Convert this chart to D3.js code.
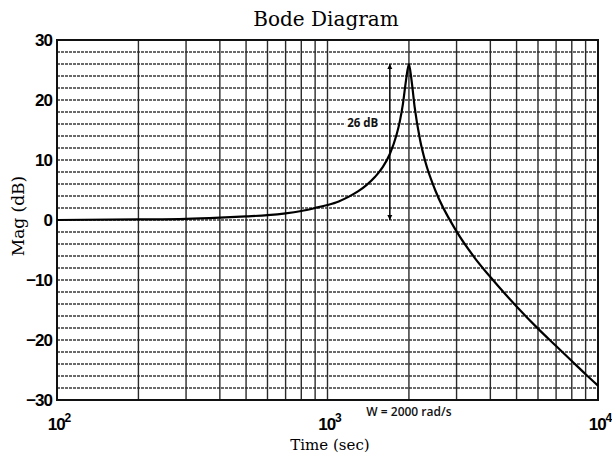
<!DOCTYPE html>
<html>
<head>
<meta charset="utf-8">
<script src="https://cdn.jsdelivr.net/npm/d3@7"></script>
<style>
  html, body { margin: 0; padding: 0; background: #fff; }
  svg { display: block; }
</style>
</head>
<body>
<svg id="chart" width="612" height="456"></svg>
<script>
// Frequency response of a lightly damped second-order system (wn = 2000 rad/s)
const freq = [100, 200, 300, 400, 500, 600, 700, 800, 900, 1000, 1100, 1200, 1300,
              1400, 1500, 1600, 1700, 1800, 1850, 1900, 1950, 2000, 2050, 2100, 2200,
              2300, 2500, 3000, 3500, 4000, 5000, 6000, 7000, 8000, 9000, 10000];
const magDb = [0.0, 0.1, 0.2, 0.4, 0.6, 0.8, 1.1, 1.5, 2.0, 2.5, 3.1, 3.9, 4.8,
               5.9, 7.2, 8.8, 11.0, 14.2, 16.4, 19.3, 23.2, 26.0, 22.9, 18.8, 13.3,
               9.7, 5.0, -1.9, -6.3, -9.5, -14.4, -18.1, -21.0, -23.5, -25.7, -27.6];

// Axis ticks
const yTicks = [-30, -20, -10, 0, 10, 20, 30];
const xTickExponents = [2, 3, 4];

// Annotations
const peakFreq = 2000;
const peakLabel = "26 dB";
const peakNote = "W = 2000 rad/s";
const arrowFreq = 1700;
const arrowFrom = 0;
const arrowTo = 26;

const svg = d3.select("#chart");
const margin = { left: 57, right: 14, top: 40, bottom: 56 };
const W = 612, H = 456;
const x = d3.scaleLog().domain([100, 10000]).range([margin.left, W - margin.right]);
const y = d3.scaleLinear().domain([-30, 30]).range([H - margin.bottom, margin.top]);

const defs = svg.append("defs");
defs.append("marker")
  .attr("id", "head")
  .attr("viewBox", "0 0 10 10")
  .attr("refX", 10).attr("refY", 5)
  .attr("markerWidth", 5).attr("markerHeight", 7)
  .attr("markerUnits", "userSpaceOnUse")
  .attr("orient", "auto-start-reverse")
  .append("path").attr("d", "M0,0 L10,5 L0,10 Z").attr("fill", "#000");

const grid = svg.append("g");

// Horizontal grid every 2 dB
const hLines = d3.range(-28, 30, 2);
grid.selectAll("line.h").data(hLines).join("line")
  .attr("class", "h")
  .attr("x1", x.range()[0]).attr("x2", x.range()[1])
  .attr("y1", d => y(d)).attr("y2", d => y(d))
  .attr("stroke", "#3a3a3a").attr("stroke-width", 1.3)
  .attr("stroke-dasharray", "3,1");

// Vertical grid on the log decades
const vLines = x.ticks().filter(v => v > 100 && v < 10000);
grid.selectAll("line.v").data(vLines).join("line")
  .attr("class", "v")
  .attr("x1", d => x(d)).attr("x2", d => x(d))
  .attr("y1", y.range()[0]).attr("y2", y.range()[1])
  .attr("stroke", "#2a2a2a").attr("stroke-width", 1.4);

// Plot frame
svg.append("rect")
  .attr("x", x.range()[0]).attr("y", y.range()[1])
  .attr("width", x.range()[1] - x.range()[0])
  .attr("height", y.range()[0] - y.range()[1])
  .attr("fill", "none").attr("stroke", "#111").attr("stroke-width", 2);

// Magnitude curve
const pts = freq.map((f, i) => [f, magDb[i]]);
svg.append("path")
  .datum(pts)
  .attr("fill", "none").attr("stroke", "#000").attr("stroke-width", 2.2)
  .attr("d", d3.line().x(d => x(d[0])).y(d => y(d[1])).curve(d3.curveMonotoneX));

// Y axis tick labels
const yAxis = d3.axisLeft(y).tickValues(yTicks).tickSize(0).tickPadding(5).tickFormat(d3.format("d"));
svg.append("g").attr("transform", `translate(${margin.left},0)`).call(yAxis)
  .call(g => g.select(".domain").remove())
  .call(g => g.selectAll("text")
    .attr("font-family", "Liberation Sans, Arial, sans-serif")
    .attr("font-weight", 700)
    .attr("font-size", 17).attr("fill", "#000").attr("letter-spacing", -1));

// X axis tick labels as powers of ten
const xLab = svg.append("g");
xTickExponents.forEach(e => {
  const t = xLab.append("text")
    .attr("x", x(Math.pow(10, e)) + 2).attr("y", 430)
    .attr("text-anchor", "middle")
    .attr("font-family", "Liberation Sans, Arial, sans-serif")
    .attr("font-weight", 700)
    .attr("font-size", 17).attr("letter-spacing", -1).attr("fill", "#000");
  t.append("tspan").text("10");
  t.append("tspan").attr("dy", -8).attr("font-size", 12).text(e);
});

// Titles
svg.append("text")
  .attr("x", 326).attr("y", 26).attr("text-anchor", "middle")
  .attr("font-family", "DejaVu Serif, serif").attr("font-size", 20)
  .text("Bode Diagram");
svg.append("text")
  .attr("x", 330).attr("y", 450).attr("text-anchor", "middle")
  .attr("font-family", "DejaVu Serif, serif").attr("font-size", 15)
  .text("Time (sec)");
svg.append("text")
  .attr("transform", "translate(24,216) rotate(-90)")
  .attr("text-anchor", "middle")
  .attr("font-family", "DejaVu Serif, serif").attr("font-size", 17)
  .text("Mag (dB)");

// Peak annotation: double-headed arrow and labels
svg.append("line")
  .attr("x1", x(arrowFreq)).attr("x2", x(arrowFreq))
  .attr("y1", y(arrowFrom)).attr("y2", y(arrowTo))
  .attr("stroke", "#000").attr("stroke-width", 1.5)
  .attr("marker-start", "url(#head)").attr("marker-end", "url(#head)");

const peakText = svg.append("text")
  .attr("x", x(1350)).attr("y", y(15.5)).attr("text-anchor", "middle")
  .attr("font-family", "Open Sans, sans-serif").attr("font-weight", 700)
  .attr("font-size", 11.5).attr("fill", "#111")
  .text(peakLabel);
const bb = peakText.node().getBBox();
svg.insert("rect", () => peakText.node())
  .attr("x", bb.x - 2).attr("y", bb.y + 1)
  .attr("width", bb.width + 4).attr("height", bb.height - 2)
  .attr("fill", "#fff");

svg.append("text")
  .attr("x", x(peakFreq)).attr("y", 416).attr("text-anchor", "middle")
  .attr("font-family", "Open Sans, sans-serif").attr("font-weight", 600)
  .attr("font-size", 12).attr("fill", "#111")
  .text(peakNote);
</script>
</body>
</html>
